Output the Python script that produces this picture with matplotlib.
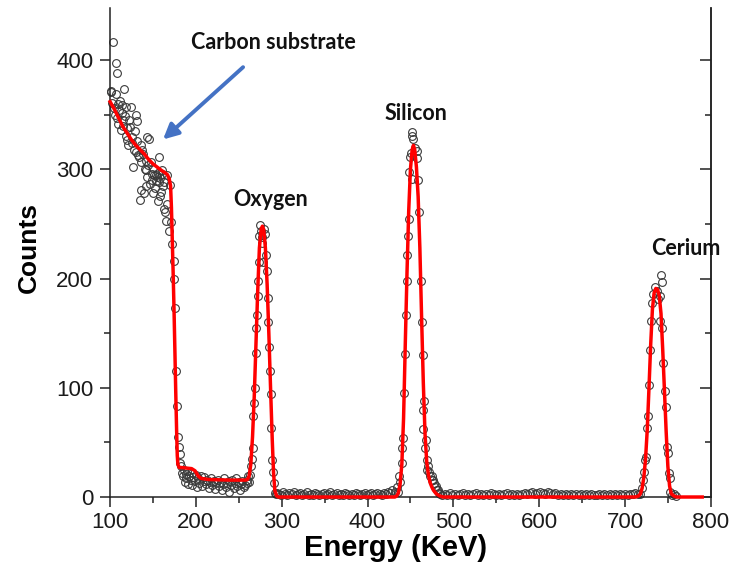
import numpy as np
import matplotlib
matplotlib.use('Agg')
from matplotlib import pyplot as plt
from matplotlib.ticker import MultipleLocator

# measured spectrum (energy keV, counts), split by region
carbon_pts = [(100.5, 372), (101.5, 371), (102.7, 361), (103.9, 417), (104.5, 356), (105.5, 350),
              (106.6, 369), (107.4, 397), (108.5, 388), (108.5, 347), (109, 342), (109.5, 360),
              (110.5, 354), (111.6, 363), (112.5, 336), (113.5, 352), (114.3, 359), (114.8, 340),
              (115.5, 345), (116.3, 374), (117.1, 349), (118.3, 357), (118.8, 331), (119.5, 338),
              (120.2, 327), (121, 322), (122.5, 345), (123.3, 339), (124.1, 357), (125, 330),
              (126, 324), (126.5, 302), (127.5, 318), (128.5, 335), (129.9, 350), (130.3, 316),
              (131, 326), (131.8, 344), (133, 313), (133.8, 311), (134.9, 272), (135.7, 322),
              (136.2, 307), (135.9, 281), (137, 318), (138.8, 314), (139.6, 278), (140.5, 300),
              (141.6, 308), (142, 299), (141.8, 285), (142.5, 293), (143.5, 330), (144.5, 304),
              (145.4, 328), (146.5, 287), (147.4, 307), (148.3, 296), (149.3, 290), (149.6, 278),
              (150.2, 301), (151.2, 295), (152.2, 283), (153.2, 295), (154, 289), (155.1, 293),
              (155.4, 271), (156, 297), (157.1, 311), (157.4, 288), (157.8, 276), (158, 292),
              (159, 279), (160, 296), (160.9, 299), (161.8, 285), (162.9, 288), (163.2, 264),
              (163.6, 261), (164.9, 253), (166, 268), (166.7, 295), (168.7, 244), (170.2, 286)]
edge_pts = [(171.5, 252), (172.6, 232), (174, 216), (174.6, 200), (175.4, 173), (176.8, 115),
            (177.8, 83), (179, 55), (180, 46), (181.5, 39), (182, 31)]
plateau_pts = [(183, 28), (184, 22), (185, 19), (186, 25), (187, 14), (188, 21), (189, 17),
               (190, 24), (191, 12), (192, 19), (194, 16), (195, 22), (196, 11), (197, 18),
               (199, 15), (200, 20), (201, 9), (203, 17), (204, 13), (206, 19), (207, 10),
               (209, 15), (210, 18), (212, 12), (213, 16), (215, 8), (216, 14), (218, 17),
               (219, 11), (221, 15), (222, 7), (224, 13), (226, 16), (227, 10), (229, 14),
               (230, 6), (232, 12), (233, 17), (235, 9), (236, 13), (238, 15), (239, 5),
               (241, 11), (242, 16), (244, 8), (245, 13), (247, 17), (248, 10), (250, 14),
               (251, 6), (253, 12), (254, 15), (256, 9), (257, 11), (259, 16), (260, 13), (261, 19)]
oxygen_pts = [(262, 14), (263, 20), (264, 28), (265, 35), (266, 45), (267, 74), (268, 86),
              (268.8, 100), (269.6, 132), (270.5, 155), (271, 167), (271.8, 184), (272.5, 198),
              (273, 215), (273.8, 239), (274.7, 249), (275.5, 244), (276.5, 238), (277.5, 233),
              (278.5, 215), (279.5, 245), (280.5, 241), (281.5, 222), (282.5, 207), (283.5, 182),
              (284.5, 160), (285.5, 137), (286.5, 115), (287.3, 94), (288, 63), (289, 34),
              (290, 23), (291, 13), (292, 4), (293.5, 3)]
bg1_pts = [(294, 4), (296.5, 3), (299, 2), (301.5, 5), (304, 3), (306.5, 2), (309, 4), (311.5, 3),
           (314, 5), (316.5, 2), (319, 3), (321.5, 4), (324, 2), (326.5, 3), (329, 5), (331.5, 2),
           (334, 3), (336.5, 2), (339, 4), (341.5, 3), (344, 2), (346.5, 3), (349, 4), (351.5, 2),
           (354, 3), (356.5, 5), (359, 2), (361.5, 3), (364, 4), (366.5, 2), (369, 3), (371.5, 2),
           (374, 4), (376.5, 3), (379, 2), (381.5, 3), (384, 2), (386.5, 4), (389, 3), (391.5, 2),
           (394, 3), (396.5, 4), (399, 2), (401.5, 3), (404, 4), (406.5, 2), (409, 3), (411.5, 4),
           (414, 3), (416.5, 2), (419, 4), (421.5, 3), (424, 5), (426.5, 4), (429, 6), (431.5, 5)]
silicon_pts = [(433.9, 9), (435, 5), (436.9, 19), (438, 14), (439.7, 31), (440.5, 45), (441.6, 54),
               (442.4, 95), (443.6, 131), (444.8, 167), (445.5, 198), (446.3, 222), (447.1, 239),
               (447.9, 255), (448.6, 298), (449.5, 311), (451, 315), (452.1, 334), (452.4, 331),
               (452.8, 328), (452.1, 291), (455, 320), (457.2, 317), (457.9, 310), (459.1, 290),
               (460.3, 261), (461.8, 198), (463, 160), (464.1, 130), (464.6, 80), (465, 62),
               (466.1, 88), (466.9, 45), (467.7, 52), (468.8, 34), (469.3, 25), (470.7, 28),
               (471.5, 23), (472.4, 19), (474.6, 19), (475.2, 16), (476, 16), (477.3, 13),
               (478.5, 9), (479.5, 10), (481, 6), (482.4, 6), (483.5, 4), (485, 3)]
bg2_pts = [(487, 2), (490, 3), (493, 2), (496, 4), (499, 2), (502, 3), (505, 2), (508, 3),
           (511, 4), (514, 2), (517, 3), (520, 2), (523, 3), (526, 4), (529, 2), (532, 3),
           (535, 2), (538, 3), (541, 2), (544, 4), (547, 3), (550, 2), (553, 3), (556, 2),
           (559, 3), (562, 4), (565, 2), (568, 3), (571, 2), (574, 3), (577, 2), (580, 3),
           (583, 4), (586, 3), (589, 4), (592, 5), (595, 3), (598, 4), (601, 5), (604, 4),
           (607, 3), (610, 5), (613, 4), (616, 3), (619, 4), (622, 2), (625, 3), (628, 2),
           (631, 3), (634, 2), (637, 3), (640, 2), (643, 3), (646, 2), (649, 3), (652, 2),
           (655, 3), (658, 2), (661, 3), (664, 2), (667, 2), (670, 3), (673, 2), (676, 3),
           (679, 2), (682, 3), (685, 2), (688, 3), (691, 2), (694, 3), (697, 2), (700, 3),
           (703, 2), (706, 3), (709, 3), (712, 4), (715, 3)]
cerium_pts = [(717, 3), (719.3, 8), (721.4, 16), (722.2, 23), (723.3, 34), (724.3, 37), (725.9, 63),
              (727, 74), (728.1, 103), (728.9, 135), (730.9, 161), (732, 178), (732.8, 186),
              (735, 192), (737, 189), (739, 181), (740.6, 184), (741.4, 161), (742.5, 203),
              (743.3, 197), (743.7, 155), (744.4, 123), (746.4, 97), (747.6, 82), (749.2, 46),
              (750.3, 40), (751.5, 22), (752.2, 17), (752.8, 5), (755, 2), (757, 3), (760, 1)]

# fitted curve (energy keV, counts)
fit_e = [100, 105, 110, 115, 120, 125, 130, 135, 140, 145, 150, 155, 160, 164, 167, 169,
         170.5, 171.5, 172.5, 173.5, 174.5, 175.5, 176.5, 177.5, 178.3, 179, 180.5, 183, 195,
         199, 203, 206, 215, 240, 258, 260, 262, 264, 266, 268, 270, 272, 274, 276, 277.5,
         279, 281, 283, 285, 287, 289, 290.5, 292, 294, 296, 430, 432, 434, 436, 438, 440,
         442, 444, 446, 448, 450, 452, 453.5, 455, 457, 459, 461, 463, 465, 467, 469, 471,
         473, 475, 477, 480, 484, 488, 712, 716, 718, 720, 722, 724, 726, 728, 730, 732, 734,
         736, 738, 740, 742, 744, 746, 748, 750, 752, 754, 757, 760, 790]
fit_c = [362, 355, 347, 339, 333, 327, 322, 318, 314, 309, 305, 302, 299, 297, 295, 291,
         285, 265, 235, 205, 172, 135, 97, 62, 38, 30, 27, 27, 26,
         24, 19, 17, 16, 15.5, 15.5, 16, 19, 30, 55, 92, 140, 188, 228, 245, 248,
         245, 228, 195, 150, 100, 52, 22, 6, 1, 0, 0, 0, 1, 4, 12, 30,
         72, 140, 205, 262, 300, 318, 322, 318, 302, 275, 228, 165, 105, 58, 32, 20,
         13, 9, 6, 3, 1, 0, 0, 1, 3, 8, 18, 35, 62, 100, 140, 172, 187,
         191, 190, 184, 168, 135, 98, 60, 28, 10, 3, 1, 0, 0]

regions = [carbon_pts, edge_pts, plateau_pts, oxygen_pts, bg1_pts,
           silicon_pts, bg2_pts, cerium_pts]
pts = np.array([p for r in regions for p in r])

fig = plt.figure(figsize=(7.29, 5.79), dpi=100)
ax = fig.add_axes([0.151, 0.1416, 0.824, 0.845])

ax.plot(pts[:, 0], pts[:, 1], linestyle='none', marker='o', ms=5.6, mfc='none',
        mec='#3a3a3a', mew=0.8, clip_on=False, zorder=2)
ax.plot(fit_e, fit_c, color='#ff0000', lw=2.5, zorder=3, clip_on=False)

ax.set_xlim(100, 800)
ax.set_ylim(0, 448)
ax.xaxis.set_major_locator(MultipleLocator(100))
ax.xaxis.set_minor_locator(MultipleLocator(50))
ax.yaxis.set_major_locator(MultipleLocator(100))
ax.yaxis.set_minor_locator(MultipleLocator(50))

for s in ['left', 'bottom', 'right']:
    ax.spines[s].set_linewidth(1.1)
    ax.spines[s].set_color('#222222')
ax.spines['top'].set_visible(False)

ax.tick_params(which='both', direction='out', color='#222222', width=1.1,
               labelsize=16, labelcolor='#1a1a1a')
ax.tick_params(which='major', length=7)
ax.tick_params(which='minor', length=4)
ax.yaxis.set_tick_params(which='major', pad=5)
ax.xaxis.set_tick_params(which='major', pad=4)
for t in ax.get_xticklabels() + ax.get_yticklabels():
    t.set_family('Liberation Sans')

# right-side ticks point inward
right = ax.secondary_yaxis('right')
right.yaxis.set_major_locator(MultipleLocator(100))
right.yaxis.set_minor_locator(MultipleLocator(50))
right.tick_params(which='both', direction='in', color='#222222', width=1.1, labelright=False)
right.tick_params(which='major', length=8)
right.tick_params(which='minor', length=4)
right.spines['right'].set_linewidth(1.1)
right.spines['right'].set_color('#222222')

ax.set_xlabel('Energy (KeV)', fontsize=21, fontweight='bold', family='Liberation Sans')
ax.set_ylabel('Counts', fontsize=19, fontweight='bold', family='Liberation Sans')
ax.xaxis.set_label_coords(0.476, -0.075)
ax.yaxis.set_label_coords(-0.115, 0.51)

lab_font = dict(fontsize=15.5, fontweight='bold', family='Lato', ha='center', va='center',
                color='#111111')
ax.text(290, 416, 'Carbon substrate', **lab_font)
ax.text(287.5, 272, 'Oxygen', **lab_font)
ax.text(456, 351, 'Silicon', **lab_font)
ax.text(771, 228, 'Cerium', **lab_font)

ax.annotate('', xy=(161.7, 327.4), xytext=(255, 393.6),
            arrowprops=dict(arrowstyle='-|>,head_length=0.9,head_width=0.45',
                            color='#4472c4', lw=2.8, shrinkA=0, shrinkB=0),
            annotation_clip=False)

plt.savefig('out.png', dpi=100)
plt.close()
